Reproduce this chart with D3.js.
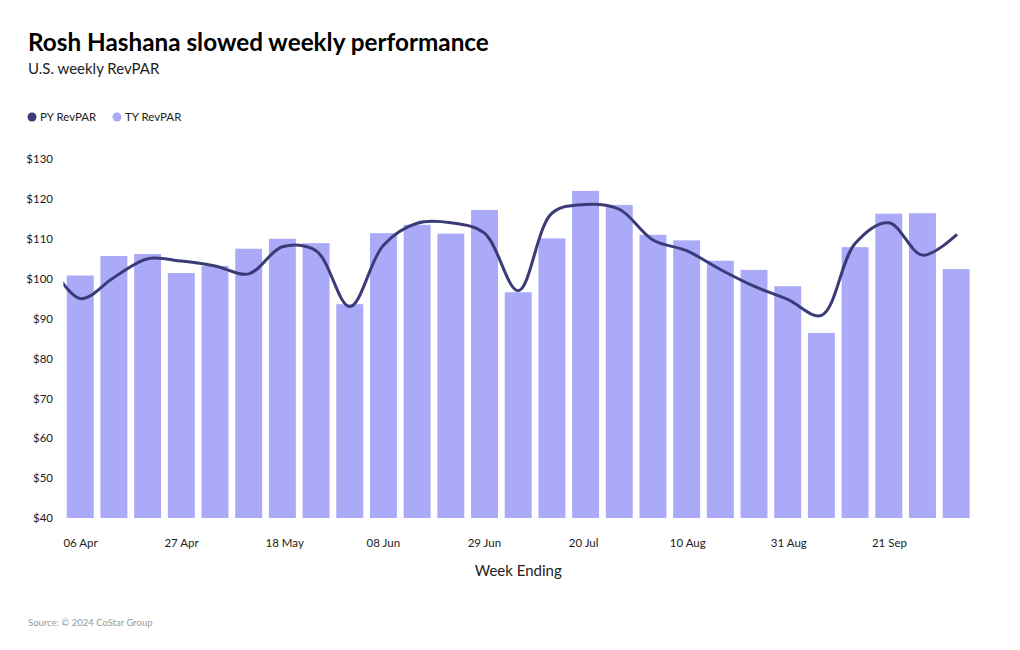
<!DOCTYPE html>
<html>
<head>
<meta charset="utf-8">
<script src="https://cdn.jsdelivr.net/npm/d3@7"></script>
<style>
  body { margin: 0; background: #fff; }
  text { font-family: Lato, "Noto Sans", sans-serif; }
</style>
</head>
<body>
<div id="chart-area"></div>
<script>
// week ending labels (one every week, label shown every 3rd)
var weeks = ["06 Apr","13 Apr","20 Apr","27 Apr","04 May","11 May","18 May","25 May","01 Jun",
             "08 Jun","15 Jun","22 Jun","29 Jun","06 Jul","13 Jul","20 Jul","27 Jul","03 Aug",
             "10 Aug","17 Aug","24 Aug","31 Aug","07 Sep","14 Sep","21 Sep","28 Sep","05 Oct"];
var tickWeeks = ["06 Apr","27 Apr","18 May","08 Jun","29 Jun","20 Jul","10 Aug","31 Aug","21 Sep"];

// this year RevPAR (bars)
var tyRevpar = [100.8,105.7,106.2,101.4,103.2,107.5,110.0,108.9,93.6,111.4,113.5,111.3,117.2,96.6,
                110.1,122.0,118.5,111.0,109.6,104.5,102.2,98.1,86.4,107.9,116.3,116.4,102.4];
// prior year RevPAR (line), first value is the week before 06 Apr
var pyWeeks = ["30 Mar"].concat(weeks);
var pyRevpar = [105.0,95.0,100.3,105.0,104.4,103.2,101.2,108.0,107.0,93.0,108.4,113.9,114.0,111.4,97.0,
                116.4,118.6,117.4,109.7,107.0,102.3,98.1,94.8,90.8,108.8,114.0,105.9,110.9];

var yTicks = [40,50,60,70,80,90,100,110,120,130];

var W = 1020, H = 650;
var plotLeft = 63.4, plotRight = 973, plotTop = 159, plotBottom = 518;

var svg = d3.select("#chart-area")
  .append("svg")
    .attr("width", W)
    .attr("height", H);

// titles
svg.append("text")
  .attr("x", 28).attr("y", 51)
  .style("font-size", "24.3px").style("font-weight", "bold").style("fill", "#000")
  .text("Rosh Hashana slowed weekly performance");
svg.append("text")
  .attr("x", 28).attr("y", 74)
  .style("font-size", "15px").style("fill", "#222")
  .text("U.S. weekly RevPAR");

// legend
var legend = [{name: "PY RevPAR", color: "#3b3b78", x: 32}, {name: "TY RevPAR", color: "#aaaaf9", x: 117}];
var lg = svg.selectAll(".legend").data(legend).enter().append("g").attr("class", "legend");
lg.append("circle")
  .attr("cx", function(d) { return d.x; }).attr("cy", 117).attr("r", 4.5)
  .attr("fill", function(d) { return d.color; });
lg.append("text")
  .attr("x", function(d) { return d.x + 8; }).attr("y", 121)
  .style("font-size", "11.5px").style("fill", "#222")
  .text(function(d) { return d.name; });

// scales
var x = d3.scaleBand()
  .domain(weeks)
  .range([plotLeft, plotRight])
  .paddingInner(0.2)
  .paddingOuter(0.1);

var y = d3.scaleLinear()
  .domain([40, 130])
  .range([plotBottom, plotTop]);

// x position of the centre of a week (also for the week before the first one)
function cx(w) {
  var i = pyWeeks.indexOf(w) - 1;
  return plotLeft + x.step() * (i + 0.5);
}

// y axis labels
svg.append("g")
  .attr("transform", "translate(53,0)")
  .call(d3.axisLeft(y).tickValues(yTicks).tickSize(0).tickPadding(0).tickFormat(function(d) { return "$" + d; }))
  .call(function(g) { g.select(".domain").remove(); })
  .selectAll("text")
  .style("font-size", "11.5px")
  .style("fill", "#222")
  .style("font-family", "Lato, 'Noto Sans', sans-serif");

// bars
svg.append("g").selectAll("rect")
  .data(tyRevpar)
  .enter().append("rect")
    .attr("x", function(d, i) { return x(weeks[i]); })
    .attr("y", function(d) { return y(d); })
    .attr("width", x.bandwidth())
    .attr("height", function(d) { return y(40) - y(d); })
    .attr("fill", "#aaaaf9");

// PY line, clipped to plot area
svg.append("clipPath").attr("id", "plot-clip")
  .append("rect")
    .attr("x", plotLeft).attr("y", 0)
    .attr("width", plotRight - plotLeft).attr("height", H);

var line = d3.line()
  .x(function(d, i) { return cx(pyWeeks[i]); })
  .y(function(d) { return y(d); })
  .curve(d3.curveCatmullRom.alpha(0.5));

svg.append("path")
  .datum(pyRevpar)
  .attr("clip-path", "url(#plot-clip)")
  .attr("d", line)
  .attr("fill", "none")
  .attr("stroke", "#3b3b78")
  .attr("stroke-width", 3)
  .attr("stroke-linecap", "round");

// x axis labels, left aligned at the start of the week
svg.append("g").selectAll("text")
  .data(tickWeeks)
  .enter().append("text")
    .attr("x", function(d) { return x(d) - x.step() * x.paddingInner() / 2; })
    .attr("y", 547)
    .style("font-size", "11.5px")
    .style("fill", "#222")
    .text(function(d) { return d; });

svg.append("text")
  .attr("x", (plotLeft + plotRight) / 2).attr("y", 576)
  .attr("text-anchor", "middle")
  .style("font-size", "15px").style("fill", "#222")
  .text("Week Ending");

svg.append("text")
  .attr("x", 28).attr("y", 626)
  .style("font-size", "9.5px").style("fill", "#999")
  .text("Source: \u00a9 2024 CoStar Group");
</script>
</body>
</html>
